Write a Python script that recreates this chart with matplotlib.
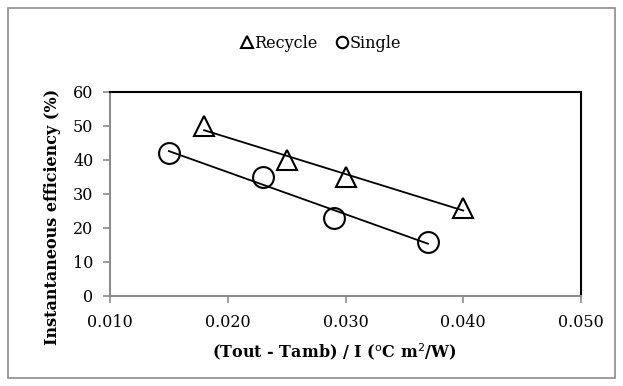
import numpy as np
import matplotlib
matplotlib.use("Agg")
import matplotlib.pyplot as plt
from matplotlib.patches import Rectangle

plt.rcParams['font.family'] = ['DejaVu Serif']

recycle_x = [0.018, 0.025, 0.030, 0.040]
recycle_y = [50, 40, 35, 26]
single_x = [0.015, 0.023, 0.029, 0.037]
single_y = [42, 35, 23, 16]
x_ticks = [0.010, 0.020, 0.030, 0.040, 0.050]
y_ticks = [0, 10, 20, 30, 40, 50, 60]

W, H = 623, 386
fig = plt.figure(figsize=(W/100, H/100), dpi=100)
fig.patches.append(Rectangle((8/W, 8/H), (615-8)/W, (378-8)/H, transform=fig.transFigure,
                             fill=False, edgecolor='#8c8c8c', linewidth=1.2))
ax = fig.add_axes([110/W, 1-296/H, (581-110)/W, (296-92)/H])

def trend(xs, ys):
    p = np.polyfit(xs, ys, 1)
    xx = np.array([min(xs), max(xs)])
    return xx, np.polyval(p, xx)

tx, ty = trend(recycle_x, recycle_y)
ax.plot(tx, ty, color='black', lw=1.3, zorder=2)
tx, ty = trend(single_x, single_y)
ax.plot(tx, ty, color='black', lw=1.3, zorder=2)

ax.plot(recycle_x, recycle_y, linestyle='none', marker='^', markersize=15,
        markerfacecolor='none', markeredgecolor='black', markeredgewidth=1.5, label='Recycle', zorder=3)
ax.plot(single_x, single_y, linestyle='none', marker='o', markersize=15,
        markerfacecolor='none', markeredgecolor='black', markeredgewidth=1.5, label='Single', zorder=3)

ax.set_xlim(0.010, 0.050)
ax.set_ylim(0, 60)
ax.set_xticks(x_ticks)
ax.set_xticklabels([f"{v:.3f}" for v in x_ticks])
ax.set_yticks(y_ticks)
ax.tick_params(axis='both', direction='out', length=5, color='#8c8c8c', labelsize=11.5, width=1.2)
ax.tick_params(axis='x', pad=8)
ax.tick_params(axis='y', pad=7)
for s in ['top', 'right']:
    ax.spines[s].set_color('black')
    ax.spines[s].set_linewidth(1.5)
for s in ['left', 'bottom']:
    ax.spines[s].set_color('#8c8c8c')
    ax.spines[s].set_linewidth(1.5)

ax.set_xlabel('(Tout - Tamb) / I ($^{\\rm o}$C m$^{2}$/W)', fontsize=11.5, fontweight='bold')
ax.xaxis.set_label_coords((334-110)/(581-110), -(341-296)/(296-92))
ax.set_ylabel('Instantaneous efficiency (%)', fontsize=11.5, fontweight='bold')
ax.yaxis.set_label_coords(-(110-61)/(581-110), (296-217)/(296-92))

handles, labels = ax.get_legend_handles_labels()
leg = fig.legend(handles, labels, loc='center', bbox_to_anchor=(320/W, 1-43/H), ncol=2, frameon=False,
                 fontsize=11.5, handletextpad=0.0, columnspacing=1.0, markerscale=0.55, handlelength=1.0)

fig.savefig('out.png', dpi=100)
